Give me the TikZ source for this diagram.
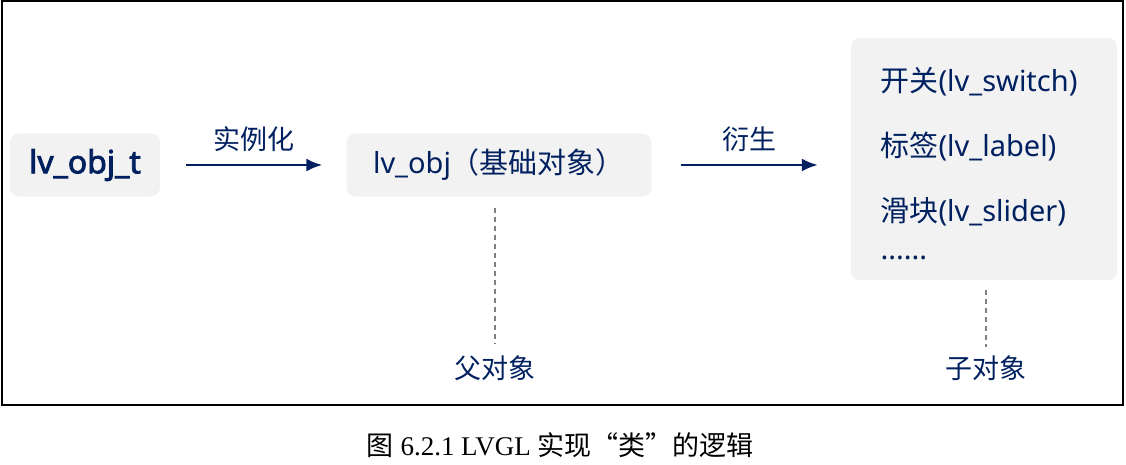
\documentclass[tikz,border=0pt]{standalone}
\usepackage{fontspec}
\setmainfont{Noto Sans}[AutoFakeBold=2.5]
\newfontfamily\cjk{Noto Sans CJK SC}
\newfontfamily\capserif{Liberation Serif}
\usetikzlibrary{positioning,arrows.meta}
\definecolor{navy}{RGB}{0,32,96}
\definecolor{boxgray}{RGB}{242,242,242}

\begin{document}
\begin{tikzpicture}[
	x=1pt,y=-1pt,
	objb/.style={
	  fill=boxgray,
	  rounded corners=9pt,
	  text=navy,
	  font=\fontsize{29}{34}\selectfont,
	  inner sep=0pt
	},
	arr/.style={
	  draw=navy,
	  line width=2.4pt,
	  -{Latex[length=16pt,width=13pt]}
	},
	guide/.style={
	  draw=gray,
	  line width=1.6pt,
	  dash pattern=on 5pt off 4pt
	},
	tag/.style={
	  text=navy,
	  font=\cjk\fontsize{27}{30}\selectfont,
	  inner sep=2pt
	}
]
\useasboundingbox (0,0) rectangle (1126,465);

% frame
\draw[line width=2pt] (2,1) rectangle (1123,405);

% objects
\node[objb,minimum width=150pt,minimum height=63pt,font=\fontsize{32}{36}\selectfont] at (85,165)
  (cls) {\bfseries lv\_obj\_t};
\node[objb,minimum width=305pt,minimum height=63pt] at (499,165)
  (obj) {lv\_obj{\cjk（基础对象）}};
\node[objb,minimum width=266pt,minimum height=242pt] at (984,159)
  (sub) {};
\node[text=navy,align=left,font=\fontsize{29}{65}\selectfont,inner sep=0pt] at ([xshift=-5pt,yshift=-5pt]sub.center)
  (subtxt) {{\cjk 开关}(lv\_switch)\\{\cjk 标签}(lv\_label)\\{\cjk 滑块}(lv\_slider)\\[-27pt]......};

% arrows
\draw[arr] ([xshift=26pt]cls.east) -- node[tag,above=10pt] (inst) {实例化} ([xshift=-24pt]obj.west);
\draw[arr] ([xshift=29pt]obj.east) -- node[tag,above=10pt] (deriv) {衍生} ([xshift=-33pt]sub.west |- obj.east);

% parent / child
\node[tag] at (495,368) (par) {父对象};
\node[tag] at (986,368) (chd) {子对象};
\draw[guide] ([yshift=-11pt]obj.south -| par) -- ([yshift=10pt]par.north);
\draw[guide] ([yshift=-10pt]sub.south -| chd) -- ([yshift=6pt]chd.north);

% caption
\node at (560,445) (cap) {\fontsize{27}{30}\selectfont{\cjk 图} \capserif 6.2.1 LVGL {\cjk 实现“类”的逻辑}};

\end{tikzpicture}
\end{document}
